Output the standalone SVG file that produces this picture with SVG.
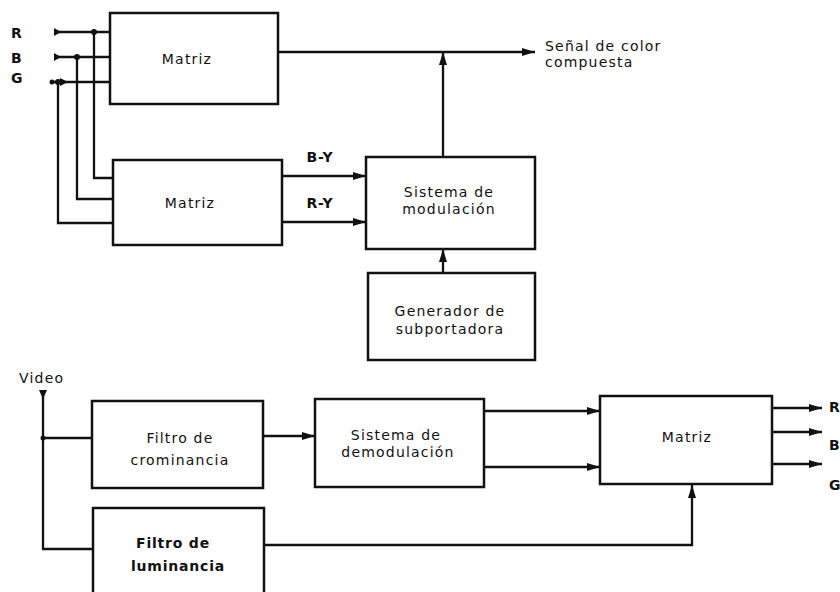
<svg xmlns="http://www.w3.org/2000/svg" width="840" height="592" viewBox="0 0 840 592">
<style>
.box{fill:none;stroke:#111;stroke-width:2.5}
.ln{fill:none;stroke:#111;stroke-width:2.3}
.ar{fill:none;stroke:#111;stroke-width:2.3;marker-end:url(#ah)}
.t{font-family:"DejaVu Sans","Liberation Sans",Arial,sans-serif;font-size:14px;letter-spacing:1.2px;fill:#111;text-anchor:middle}
.tl{font-family:"DejaVu Sans","Liberation Sans",Arial,sans-serif;font-size:14px;letter-spacing:1.2px;fill:#111}
.b{font-weight:bold;letter-spacing:0.8px}
.dot{fill:#111}
</style>
<defs>
<marker id="ah" viewBox="0 0 13 8" refX="13" refY="4" markerWidth="13" markerHeight="8" markerUnits="userSpaceOnUse" orient="auto">
<path d="M0,0 L13,4 L0,8 z" fill="#111"/>
</marker>
</defs>
<rect width="840" height="592" fill="#fff"/>

<g id="connectors">
<path class="ln" d="M55,32 H110"/>
<path class="ln" d="M55,57 H110"/>
<path class="ln" d="M52,82 H110"/>
<path d="M54,28 L61,32 L54,36 z" fill="#111"/>
<path d="M54,53 L61,57 L54,61 z" fill="#111"/>
<path d="M60,78 L68,82 L60,86 z" fill="#111"/>
<circle class="dot" cx="52" cy="82" r="2.5"/>
<circle class="dot" cx="94" cy="32" r="3"/>
<circle class="dot" cx="77" cy="57" r="3"/>
<circle class="dot" cx="58" cy="82" r="3"/>
<path class="ln" d="M94,32 V178 H113"/>
<path class="ln" d="M77,57 V199 H113"/>
<path class="ln" d="M58,82 V223 H113"/>
<path class="ar" d="M278,52 H535"/>
<path class="ar" d="M443,157 V52"/>
<path class="ar" d="M282,176 H366"/>
<path class="ar" d="M282,222 H366"/>
<path class="ar" d="M443,273 V249"/>
<path class="ln" d="M43,393 V549 H93"/>
<path d="M39,390 L47,390 L43,399 z" fill="#111"/>
<path class="ln" d="M43,438 H92"/>
<circle class="dot" cx="43" cy="438" r="2.5"/>
<path class="ar" d="M263,436 H315"/>
<path class="ar" d="M484,411 H600"/>
<path class="ar" d="M484,467 H600"/>
<path class="ar" d="M264,545 H692 V485"/>
<path class="ar" d="M772,408 H822"/>
<path class="ar" d="M772,432 H822"/>
<path class="ar" d="M772,464 H822"/>
</g>

<g id="labels">
<text class="tl b" x="11" y="38">R</text>
<text class="tl b" x="11" y="63">B</text>
<text class="tl b" x="11" y="83">G</text>
<text class="tl" x="545" y="51">Señal de color</text>
<text class="tl" x="545" y="67">compuesta</text>
<text class="t b" x="320" y="162">B-Y</text>
<text class="t b" x="320" y="208">R-Y</text>
<text class="tl" x="19" y="383">Video</text>
<text class="tl b" x="829" y="412">R</text>
<text class="tl b" x="829" y="450">B</text>
<text class="tl b" x="829" y="490">G</text>
</g>

<g id="matriz1">
<rect class="box" x="110" y="13" width="168" height="91"/>
<text class="t" x="187" y="64">Matriz</text>
</g>
<g id="matriz2">
<rect class="box" x="113" y="160" width="169" height="85"/>
<text class="t" x="190" y="208">Matriz</text>
</g>
<g id="modulacion">
<rect class="box" x="366" y="157" width="169" height="92"/>
<text class="t" x="449" y="197">Sistema de</text>
<text class="t" x="449" y="214">modulación</text>
</g>
<g id="generador">
<rect class="box" x="368" y="273" width="167" height="87"/>
<text class="t" x="450" y="316">Generador de</text>
<text class="t" x="450" y="334">subportadora</text>
</g>
<g id="crominancia">
<rect class="box" x="92" y="401" width="171" height="87"/>
<text class="t" x="180" y="443">Filtro de</text>
<text class="t" x="180" y="465">crominancia</text>
</g>
<g id="demodulacion">
<rect class="box" x="315" y="399" width="169" height="88"/>
<text class="t" x="396" y="440">Sistema de</text>
<text class="t" x="398" y="457">demodulación</text>
</g>
<g id="matriz3">
<rect class="box" x="600" y="396" width="172" height="88"/>
<text class="t" x="687" y="442">Matriz</text>
</g>
<g id="luminancia">
<rect class="box" x="93" y="508" width="171" height="92"/>
<text class="t b" x="173" y="548">Filtro de</text>
<text class="t b" x="178" y="571">luminancia</text>
</g>
</svg>
